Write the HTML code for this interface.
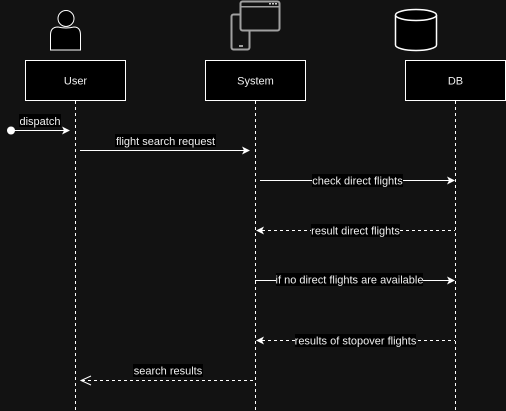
<!DOCTYPE html>
<html><head><meta charset="utf-8"><style>
html,body{margin:0;padding:0;background:#121212;width:506px;height:411px;overflow:hidden}
text{font-family:"Liberation Sans",Arial,sans-serif;font-size:11px;fill:#f0f0f0}
</style></head><body>
<svg width="506" height="411" viewBox="0 0 506 411" xmlns="http://www.w3.org/2000/svg">
<rect width="506" height="411" fill="#121212"/>
<!-- person -->
<circle cx="66" cy="18.5" r="8" fill="#000" stroke="#fff" stroke-width="1"/>
<path d="M50.5 50 L50.5 35 Q50.5 27 58 27 Q66 29 74 27 Q80.5 27 80.5 35 L80.5 50 Z" fill="#000" stroke="#fff" stroke-width="1"/>
<!-- device -->
<rect x="231.5" y="14.5" width="18" height="35" rx="2" fill="none" stroke="#a0a0a0" stroke-width="2"/>
<rect x="239" y="45" width="4" height="2" fill="#a0a0a0"/>
<rect x="240.5" y="1.5" width="39" height="29" rx="2" fill="#121212" stroke="#a0a0a0" stroke-width="2"/>
<rect x="241" y="6" width="38" height="1.5" fill="#a0a0a0"/>
<circle cx="270" cy="3.8" r="0.9" fill="#fff"/><circle cx="273" cy="3.8" r="0.9" fill="#fff"/><circle cx="276" cy="3.8" r="0.9" fill="#fff"/>
<!-- cylinder -->
<path d="M395.5 15 L395.5 45 A20.5 5.5 0 0 0 436.5 45 L436.5 15" fill="#000" stroke="#fff" stroke-width="1.5"/>
<ellipse cx="416" cy="15" rx="20.5" ry="5.5" fill="#000" stroke="#fff" stroke-width="1.5"/>
<!-- boxes -->
<rect x="25.5" y="60.5" width="100" height="40" fill="#000" stroke="#fff"/>
<rect x="205.5" y="60.5" width="100" height="40" fill="#000" stroke="#fff"/>
<rect x="405.5" y="60.5" width="100" height="40" fill="#000" stroke="#fff"/>
<text x="75.5" y="84.5" text-anchor="middle" font-size="12">User</text>
<text x="255.5" y="84.5" text-anchor="middle" font-size="12">System</text>
<text x="455.5" y="84.5" text-anchor="middle" font-size="12">DB</text>
<!-- lifelines -->
<g stroke="#fff" stroke-dasharray="3 3" stroke-width="1">
<line x1="75.5" y1="101" x2="75.5" y2="411"/>
<line x1="255.5" y1="101" x2="255.5" y2="411"/>
<line x1="455.5" y1="101" x2="455.5" y2="411"/>
</g>
<!-- dispatch -->
<circle cx="11" cy="130.5" r="4" fill="#fff"/>
<line x1="11" y1="130.5" x2="64" y2="130.5" stroke="#fff"/>
<path d="M70 130.5 L62 126.5 L64 130.5 L62 134.5 Z" fill="#fff"/>
<rect x="19" y="114" width="42" height="13" fill="#000"/>
<text x="40" y="125" text-anchor="middle">dispatch</text>
<!-- flight search request -->
<line x1="80" y1="150.5" x2="244" y2="150.5" stroke="#fff"/>
<path d="M250 150.5 L242 146.5 L244 150.5 L242 154.5 Z" fill="#fff"/>
<rect x="115" y="134" width="101" height="13" fill="#000"/>
<text x="165.5" y="145" text-anchor="middle">flight search request</text>
<!-- check direct flights -->
<line x1="260" y1="180.5" x2="449" y2="180.5" stroke="#fff"/>
<path d="M455 180.5 L447 176.5 L449 180.5 L447 184.5 Z" fill="#fff"/>
<rect x="312" y="174" width="91" height="13" fill="#000"/>
<text x="357.5" y="184.5" text-anchor="middle">check direct flights</text>
<!-- result direct flights -->
<line x1="262" y1="230.5" x2="455" y2="230.5" stroke="#fff" stroke-dasharray="3 3"/>
<path d="M256 230.5 L264 226.5 L262 230.5 L264 234.5 Z" fill="#fff"/>
<rect x="311" y="224" width="89" height="13" fill="#000"/>
<text x="355.5" y="234.5" text-anchor="middle">result direct flights</text>
<!-- if no direct -->
<line x1="255" y1="280.5" x2="449" y2="280.5" stroke="#fff"/>
<path d="M455 280.5 L447 276.5 L449 280.5 L447 284.5 Z" fill="#fff"/>
<rect x="276" y="273" width="147" height="13" fill="#000"/>
<text x="349.5" y="283.5" text-anchor="middle">if no direct flights are available</text>
<!-- stopover -->
<line x1="262" y1="340.5" x2="455" y2="340.5" stroke="#fff" stroke-dasharray="3 3"/>
<path d="M256 340.5 L264 336.5 L262 340.5 L264 344.5 Z" fill="#fff"/>
<rect x="295" y="334" width="121" height="13" fill="#000"/>
<text x="355.5" y="344.5" text-anchor="middle">results of stopover flights</text>
<!-- search results -->
<line x1="82" y1="380.5" x2="255" y2="380.5" stroke="#fff" stroke-dasharray="3 3"/>
<path d="M91 376 L81 380.5 L91 385" fill="none" stroke="#fff"/>
<rect x="133" y="364" width="70" height="13" fill="#000"/>
<text x="168" y="374.5" text-anchor="middle">search results</text>
</svg>
</body></html>
